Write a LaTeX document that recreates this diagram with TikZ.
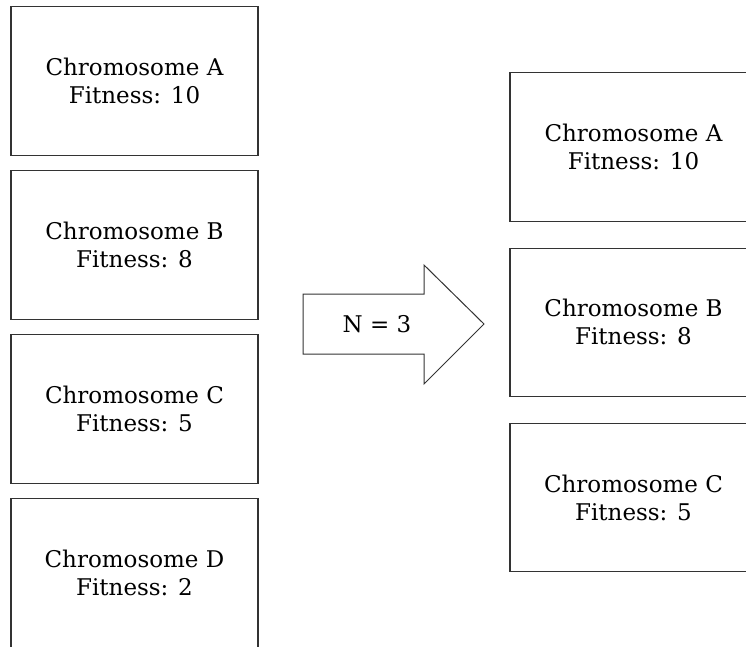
\documentclass[tikz,border=0pt]{standalone}
\usepackage{fontspec}
\setmainfont{DejaVu Serif}
\usetikzlibrary{positioning}

\tikzset{
  chrom/.style={draw=black!80, line width=1.2pt, outer sep=0pt, inner sep=0pt,
    minimum width=247pt, minimum height=148.3pt, align=center,
    font=\fontsize{23}{28}\selectfont},
  blockarrow/.style={draw=black!80, line width=1pt, line join=miter},
}

\begin{document}
\begin{tikzpicture}[x=1pt,y=-1pt]
  \useasboundingbox (0,0) rectangle (746,646);
  \clip (0,0) rectangle (746,646);
  % population
  \node[chrom] (popA) at (134.5,81) {Chromosome A\\Fitness: 10};
  \node[chrom, below=15.7pt of popA] (popB) {Chromosome B\\Fitness: 8};
  \node[chrom, below=15.7pt of popB] (popC) {Chromosome C\\Fitness: 5};
  \node[chrom, below=15.7pt of popC] (popD) {Chromosome D\\Fitness: 2};
  % selected
  \node[chrom] (selA) at (633.5,147) {Chromosome A\\Fitness: 10};
  \node[chrom, below=27pt of selA] (selB) {Chromosome B\\Fitness: 8};
  \node[chrom, below=27pt of selB] (selC) {Chromosome C\\Fitness: 5};
  % selection arrow
  \draw[blockarrow] (303,294) -- (424,294) -- (424,265) -- (484,324)
    -- (424,384) -- (424,354) -- (303,354) -- cycle;
  \node[font=\fontsize{23}{28}\selectfont] (topN) at (377,324) {N = 3};
\end{tikzpicture}
\end{document}
